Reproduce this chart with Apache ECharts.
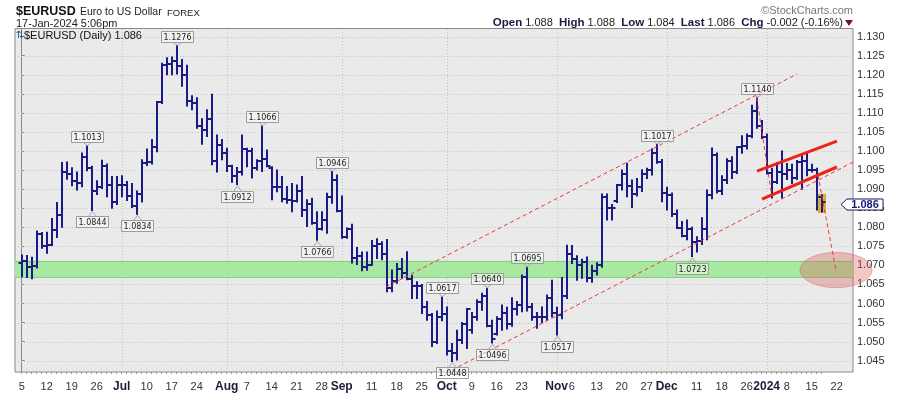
<!DOCTYPE html>
<html>
<head>
<meta charset="utf-8">
<script src="https://cdn.jsdelivr.net/npm/echarts@6.0.0/dist/echarts.min.js"></script>
<style>
html,body{margin:0;padding:0;background:#ffffff;}
#chart{width:900px;height:396px;}
</style>
</head>
<body>
<div id="chart"></div>
<script>
// ---------- DATA ----------
const dates = [
'2023-06-05','2023-06-06','2023-06-07','2023-06-08','2023-06-09',
'2023-06-12','2023-06-13','2023-06-14','2023-06-15','2023-06-16',
'2023-06-19','2023-06-20','2023-06-21','2023-06-22','2023-06-23',
'2023-06-26','2023-06-27','2023-06-28','2023-06-29','2023-06-30',
'2023-07-03','2023-07-04','2023-07-05','2023-07-06','2023-07-07',
'2023-07-10','2023-07-11','2023-07-12','2023-07-13','2023-07-14',
'2023-07-17','2023-07-18','2023-07-19','2023-07-20','2023-07-21',
'2023-07-24','2023-07-25','2023-07-26','2023-07-27','2023-07-28',
'2023-07-31','2023-08-01','2023-08-02','2023-08-03','2023-08-04',
'2023-08-07','2023-08-08','2023-08-09','2023-08-10','2023-08-11',
'2023-08-14','2023-08-15','2023-08-16','2023-08-17','2023-08-18',
'2023-08-21','2023-08-22','2023-08-23','2023-08-24','2023-08-25',
'2023-08-28','2023-08-29','2023-08-30','2023-08-31','2023-09-01',
'2023-09-04','2023-09-05','2023-09-06','2023-09-07','2023-09-08',
'2023-09-11','2023-09-12','2023-09-13','2023-09-14','2023-09-15',
'2023-09-18','2023-09-19','2023-09-20','2023-09-21','2023-09-22',
'2023-09-25','2023-09-26','2023-09-27','2023-09-28','2023-09-29',
'2023-10-02','2023-10-03','2023-10-04','2023-10-05','2023-10-06',
'2023-10-09','2023-10-10','2023-10-11','2023-10-12','2023-10-13',
'2023-10-16','2023-10-17','2023-10-18','2023-10-19','2023-10-20',
'2023-10-23','2023-10-24','2023-10-25','2023-10-26','2023-10-27',
'2023-10-30','2023-10-31','2023-11-01','2023-11-02','2023-11-03',
'2023-11-06','2023-11-07','2023-11-08','2023-11-09','2023-11-10',
'2023-11-13','2023-11-14','2023-11-15','2023-11-16','2023-11-17',
'2023-11-20','2023-11-21','2023-11-22','2023-11-23','2023-11-24',
'2023-11-27','2023-11-28','2023-11-29','2023-11-30','2023-12-01',
'2023-12-04','2023-12-05','2023-12-06','2023-12-07','2023-12-08',
'2023-12-11','2023-12-12','2023-12-13','2023-12-14','2023-12-15',
'2023-12-18','2023-12-19','2023-12-20','2023-12-21','2023-12-22',
'2023-12-26','2023-12-27','2023-12-28','2023-12-29',
'2024-01-02','2024-01-03','2024-01-04','2024-01-05',
'2024-01-08','2024-01-09','2024-01-10','2024-01-11','2024-01-12',
'2024-01-15','2024-01-16','2024-01-17'
];
const openP = [
1.0705,1.0712,1.0696,1.0698,1.0782, 1.0750,1.0753,1.0794,1.0832,1.0945,
1.0940,1.0922,1.0917,1.0985,1.0955, 1.0895,1.0905,1.0962,1.0912,1.0866,
1.0910,1.0912,1.0882,1.0855,1.0888, 1.0968,1.0970,1.1010,1.1128,1.1226,
1.1228,1.1236,1.1222,1.1200,1.1130, 1.1125,1.1065,1.1055,1.1085,1.0975,
1.1015,1.0995,1.0960,1.0935,1.0945, 1.1005,1.1000,1.0955,1.0975,1.0980,
1.0955,1.0905,1.0905,1.0875,1.0872, 1.0870,1.0895,1.0845,1.0860,1.0810,
1.0795,1.0818,1.0880,1.0925,1.0843, 1.0775,1.0795,1.0720,1.0725,1.0697,
1.0700,1.0750,1.0755,1.0730,1.0640, 1.0660,1.0690,1.0680,1.0665,1.0645,
1.0645,1.0590,1.0570,1.0500,1.0565, 1.0573,1.0475,1.0470,1.0505,1.0545,
1.0530,1.0565,1.0605,1.0620,1.0540, 1.0520,1.0558,1.0575,1.0545,1.0585,
1.0595,1.0670,1.0590,1.0565,1.0565, 1.0565,1.0615,1.0575,1.0570,1.0620,
1.0730,1.0718,1.0700,1.0710,1.0668, 1.0685,1.0700,1.0880,1.0850,1.0868,
1.0910,1.0940,1.0908,1.0888,1.0905, 1.0940,1.0950,1.0995,1.0970,1.0890,
1.0885,1.0835,1.0797,1.0778,1.0795, 1.0760,1.0763,1.0795,1.0885,1.0990,
1.0895,1.0925,1.0975,1.0945,1.1010, 1.1013,1.1040,1.1105,1.1065,
1.1038,1.0943,1.0920,1.0945, 1.0940,1.0950,1.0930,1.0972,1.0975,
1.0950,1.0950,1.0880
];
const highP = [
1.0727,1.0726,1.0721,1.0790,1.0786, 1.0787,1.0823,1.0865,1.0970,1.0971,
1.0956,1.0945,1.0995,1.1013,1.0960, 1.0922,1.0976,1.0966,1.0933,1.0933,
1.0935,1.0920,1.0915,1.0895,1.0977, 1.1005,1.1030,1.1130,1.1230,1.1245,
1.1247,1.1276,1.1240,1.1225,1.1145, 1.1140,1.1085,1.1108,1.1149,1.1042,
1.1030,1.1007,1.0963,1.0957,1.1042, 1.1007,1.1007,1.0977,1.1066,1.1003,
1.0959,1.0950,1.0933,1.0907,1.0915, 1.0911,1.0933,1.0872,1.0876,1.0841,
1.0841,1.0889,1.0946,1.0937,1.0882, 1.0798,1.0808,1.0747,1.0735,1.0735,
1.0765,1.0770,1.0762,1.0768,1.0688, 1.0705,1.0718,1.0736,1.0674,1.0657,
1.0650,1.0605,1.0574,1.0580,1.0617, 1.0591,1.0495,1.0530,1.0550,1.0587,
1.0576,1.0610,1.0627,1.0640,1.0556, 1.0565,1.0596,1.0590,1.0615,1.0605,
1.0675,1.0695,1.0600,1.0576,1.0591, 1.0622,1.0661,1.0590,1.0668,1.0753,
1.0752,1.0725,1.0716,1.0722,1.0700, 1.0707,1.0887,1.0887,1.0860,1.0912,
1.0950,1.0968,1.0924,1.0928,1.0951, 1.0955,1.1005,1.1017,1.0978,1.0905,
1.0890,1.0845,1.0815,1.0819,1.0800, 1.0775,1.0825,1.0898,1.1008,1.0995,
1.0935,1.0980,1.0985,1.1011,1.1040, 1.1045,1.1120,1.1140,1.1080,
1.1045,1.0955,1.0970,1.1000, 1.0967,1.0965,1.0975,1.0990,1.0995,
1.0965,1.0955,1.0885
];
const lowP = [
1.0670,1.0668,1.0665,1.0693,1.0745, 1.0732,1.0752,1.0773,1.0800,1.0926,
1.0909,1.0898,1.0906,1.0948,1.0844, 1.0886,1.0902,1.0880,1.0850,1.0860,
1.0880,1.0870,1.0852,1.0834,1.0866, 1.0962,1.0966,1.0998,1.1125,1.1200,
1.1200,1.1202,1.1170,1.1118,1.1108, 1.1060,1.1018,1.1038,1.0964,1.0945,
1.0977,1.0946,1.0918,1.0912,1.0937, 1.0959,1.0929,1.0950,1.0946,1.0959,
1.0872,1.0893,1.0867,1.0863,1.0841, 1.0866,1.0828,1.0802,1.0808,1.0766,
1.0793,1.0784,1.0863,1.0841,1.0771, 1.0771,1.0706,1.0702,1.0686,1.0687,
1.0700,1.0718,1.0715,1.0631,1.0631, 1.0653,1.0666,1.0662,1.0613,1.0613,
1.0574,1.0556,1.0487,1.0495,1.0555, 1.0465,1.0448,1.0452,1.0495,1.0482,
1.0522,1.0556,1.0582,1.0539,1.0496, 1.0517,1.0530,1.0533,1.0540,1.0570,
1.0578,1.0580,1.0556,1.0535,1.0550, 1.0556,1.0565,1.0517,1.0560,1.0613,
1.0705,1.0661,1.0666,1.0657,1.0656, 1.0675,1.0695,1.0819,1.0819,1.0865,
1.0898,1.0880,1.0852,1.0882,1.0894, 1.0928,1.0937,1.0968,1.0867,1.0845,
1.0828,1.0797,1.0775,1.0767,1.0723, 1.0735,1.0755,1.0767,1.0875,1.0890,
1.0886,1.0915,1.0928,1.0941,1.0994, 1.1005,1.1035,1.1060,1.1033,
1.0940,1.0877,1.0915,1.0877, 1.0925,1.0915,1.0925,1.0900,1.0935,
1.0945,1.0845,1.0840
];
const closeP = [
1.0712,1.0696,1.0698,1.0782,1.0750, 1.0753,1.0794,1.0832,1.0945,1.0940,
1.0922,1.0917,1.0985,1.0955,1.0895, 1.0905,1.0962,1.0912,1.0866,1.0910,
1.0912,1.0882,1.0855,1.0888,1.0968, 1.0970,1.1010,1.1128,1.1226,1.1228,
1.1236,1.1222,1.1200,1.1130,1.1125, 1.1065,1.1055,1.1085,1.0975,1.1015,
1.0995,1.0960,1.0935,1.0945,1.1005, 1.1000,1.0955,1.0975,1.0980,1.0962,
1.0905,1.0905,1.0875,1.0872,1.0870, 1.0895,1.0845,1.0860,1.0810,1.0795,
1.0818,1.0880,1.0925,1.0843,1.0775, 1.0795,1.0720,1.0725,1.0697,1.0700,
1.0750,1.0755,1.0730,1.0640,1.0660, 1.0690,1.0680,1.0665,1.0645,1.0645,
1.0590,1.0570,1.0500,1.0565,1.0573, 1.0475,1.0470,1.0505,1.0545,1.0585,
1.0565,1.0605,1.0620,1.0540,1.0508, 1.0558,1.0575,1.0545,1.0585,1.0595,
1.0670,1.0590,1.0565,1.0565,1.0565, 1.0615,1.0575,1.0570,1.0620,1.0730,
1.0718,1.0700,1.0710,1.0668,1.0685, 1.0700,1.0880,1.0850,1.0850,1.0910,
1.0940,1.0908,1.0888,1.0905,1.0940, 1.0950,1.0995,1.0970,1.0890,1.0885,
1.0835,1.0797,1.0778,1.0795,1.0760, 1.0763,1.0795,1.0885,1.0990,1.0895,
1.0925,1.0975,1.0945,1.1010,1.1013, 1.1040,1.1105,1.1065,1.1038,
1.0943,1.0920,1.0945,1.0940, 1.0950,1.0930,1.0972,1.0975,1.0950,
1.0950,1.0880,1.0865
];

// x-axis tick labels (index into trading days; 161..166 are future days)
const xTickIdx  = [0,5,10,15,20,25,30,35,41,45,50,55,60,64,70,75,80,85,90,95,100,107,110,115,120,125,129,135,140,145,149,153,158,163];
const xTickText = ['5','12','19','26','Jul','10','17','24','Aug','7','14','21','28','Sep','11','18','25','Oct','9','16','23','Nov','6','13','20','27','Dec','11','18','26','2024','8','15','22'];
const monthNames = ['Jul','Aug','Sep','Oct','Nov','Dec','2024'];
const monthLineIdx = [20,41,64,85,107,129,149];
const yTicks = [1.045,1.050,1.055,1.060,1.065,1.070,1.075,1.080,1.085,1.090,1.095,1.100,1.105,1.110,1.115,1.120,1.125,1.130];

// price callouts
const calloutIdx  = [13,14,23,31,43,48,59,62,84,86,93,94,101,107,127,134,147];
const calloutVal  = [1.1013,1.0844,1.0834,1.1276,1.0912,1.1066,1.0766,1.0946,1.0617,1.0448,1.0640,1.0496,1.0695,1.0517,1.1017,1.0723,1.1140];
const calloutSide = ['top','bottom','bottom','top','bottom','top','bottom','top','top','bottom','top','bottom','top','bottom','top','bottom','top'];

// annotations (index, price)
const supportBand  = [1.0669, 1.0712];
const channelUpper = [[72.86,1.06432],[155.06,1.12021]];
const channelLower = [[86.06,1.04254],[166.3,1.09712]];
const flagUpper    = [[147.06,1.09474],[163.06,1.10261]];
const flagLower    = [[148.06,1.08741],[163.06,1.09581]];
const flagPole     = [[147.0,1.1140],[150.06,1.0879]];
const projection   = [[159.26,1.09367],[162.9,1.0683]];
const targetCenter = [162.86,1.06877];
const targetRadius = [7.2,0.00459];
const lastPrice = 1.086;

// ---------- CHART ----------
const X_MIN = -1.34, X_MAX = 166.26, Y_MIN = 1.04202, Y_MAX = 1.13215;
const BAR = '#1b1b85';
const FONT = '"Liberation Sans", Arial, sans-serif';
const chart = echarts.init(document.getElementById('chart'), null, {renderer:'canvas'});

function lineSeries(data, color, width, dash, z){
  return {type:'line', data:data, symbol:'none', silent:true, z:z, clip:true, animation:false,
    lineStyle:{color:color, width:width, type:dash}};
}

const option = {
  animation:false,
  backgroundColor:'#ffffff',
  textStyle:{fontFamily:FONT},
  grid:{left:15,right:47,top:28.5,bottom:24,show:true,backgroundColor:'#eaeaea',borderColor:'#8a8a8a',borderWidth:1,outerBoundsMode:'none'},
  xAxis:{type:'value',min:X_MIN,max:X_MAX,
    axisLine:{show:false}, splitLine:{show:false},
    axisTick:{show:true,customValues:dates.map((d,i)=>i),length:2,lineStyle:{color:'#9a9a9a'}},
    axisLabel:{customValues:xTickIdx,margin:9,fontSize:11,color:'#333',fontFamily:FONT,
      formatter:function(v){const k=xTickIdx.indexOf(Math.round(v)); if(k<0) return ''; const t=xTickText[k]; return monthNames.indexOf(t)>=0?'{m|'+t+'}':t;},
      rich:{m:{fontWeight:'bold',fontSize:12,color:'#1c1c3c',fontFamily:FONT}}}
  },
  yAxis:{type:'value',position:'right',min:Y_MIN,max:Y_MAX,
    axisLine:{show:true,lineStyle:{color:'#8a8a8a'}},
    axisTick:{show:true,customValues:yTicks,length:3,lineStyle:{color:'#8a8a8a'}},
    splitLine:{show:false},
    axisLabel:{customValues:yTicks,formatter:v=>v.toFixed(3),fontSize:11,color:'#333',margin:4,fontFamily:FONT}
  },
  graphic:[
    {type:'text',x:16,y:12,style:{text:'$EURUSD',font:'bold 12.5px '+FONT,fill:'#111',verticalAlign:'middle'}},
    {type:'text',x:80,y:12.5,style:{text:'Euro to US Dollar',font:'10.5px '+FONT,fill:'#222',verticalAlign:'middle'}},
    {type:'text',x:167,y:13.5,style:{text:'FOREX',font:'9.5px '+FONT,fill:'#222',verticalAlign:'middle'}},
    {type:'text',x:16,y:23.5,style:{text:'17-Jan-2024 5:06pm',font:'11px '+FONT,fill:'#222',verticalAlign:'middle'}},
    {type:'text',x:853,y:10.5,style:{text:'\u00A9StockCharts.com',font:'11px '+FONT,fill:'#777',align:'right',verticalAlign:'middle'}},
    {type:'text',x:843,y:23,style:{text:'{b|Open} 1.088  {b|High} 1.088  {b|Low} 1.084  {b|Last} 1.086  {b|Chg} -0.002 (-0.16%)',
      font:'11px '+FONT,fill:'#222',align:'right',verticalAlign:'middle',
      rich:{b:{font:'bold 11.5px '+FONT,fill:'#1a1a40'}}}},
    {type:'polygon',shape:{points:[[845,20],[853,20],[849,26]]},style:{fill:'#7a0f2e'}},
    {type:'text',x:16,y:35.5,z:100,style:{text:'\u21C5',font:'10px "DejaVu Sans"',fill:'#2a4aa8',verticalAlign:'middle'}},
    {type:'text',x:24,y:35.5,z:100,style:{text:'$EURUSD (Daily) 1.086',font:'11px '+FONT,fill:'#111',verticalAlign:'middle'}}
  ],
  series:[
    // horizontal dotted grid
    {type:'custom',z:1,silent:true,data:yTicks.map(v=>[X_MIN,v]),encode:{x:0,y:1},
      renderItem:function(p,api){const a=api.coord([X_MIN,api.value(1)]),b=api.coord([X_MAX,api.value(1)]);const y=Math.round(a[1])+0.5;
        return {type:'line',shape:{x1:a[0],y1:y,x2:b[0],y2:y},style:{stroke:'#c4c4c4',lineWidth:1,lineDash:[1,2]}};}},
    // vertical month lines
    {type:'custom',z:1,silent:true,data:monthLineIdx.map(i=>[i,Y_MIN]),encode:{x:0,y:1},
      renderItem:function(p,api){const a=api.coord([api.value(0),Y_MIN]),b=api.coord([api.value(0),Y_MAX]);const x=Math.round(a[0])+0.5;
        return {type:'line',shape:{x1:x,y1:a[1],x2:x,y2:b[1]},style:{stroke:'#c4c4c4',lineWidth:1,lineDash:[1,2]}};}},
    // support band
    {type:'custom',z:2,silent:true,data:[[X_MIN,supportBand[0]]],encode:{x:0,y:1},
      renderItem:function(p,api){const a=api.coord([X_MIN,supportBand[1]]),b=api.coord([X_MAX,supportBand[0]]);
        return {type:'group',children:[
          {type:'rect',shape:{x:a[0],y:a[1],width:b[0]-a[0],height:b[1]-a[1]},style:{fill:'#a9e8a3'}},
          {type:'line',shape:{x1:a[0],y1:Math.round(a[1])+0.5,x2:b[0],y2:Math.round(a[1])+0.5},style:{stroke:'#82d27e',lineWidth:1}},
          {type:'line',shape:{x1:a[0],y1:Math.round(b[1])+0.5,x2:b[0],y2:Math.round(b[1])+0.5},style:{stroke:'#82d27e',lineWidth:1}}
        ]};}},
    // OHLC bars
    {type:'custom',z:3,silent:true,data:dates.map((d,i)=>[i,openP[i],highP[i],lowP[i],closeP[i]]),encode:{x:0,y:[1,2,3,4]},
      renderItem:function(p,api){
        const i=api.value(0);
        const o=api.coord([i,api.value(1)]),h=api.coord([i,api.value(2)]),l=api.coord([i,api.value(3)]),c=api.coord([i,api.value(4)]);
        const x=Math.round(h[0]);const st={stroke:BAR,lineWidth:2};const ch=[];
        if(p.dataIndex===dates.length-1){ch.push({type:'rect',shape:{x:x-4,y:h[1]-1,width:8,height:l[1]-h[1]+2},style:{fill:'rgba(214,168,30,0.9)'}});}
        ch.push({type:'line',shape:{x1:x,y1:h[1]-0.5,x2:x,y2:l[1]+0.5},style:st});
        ch.push({type:'line',shape:{x1:x-3.5,y1:Math.round(o[1]),x2:x,y2:Math.round(o[1])},style:st});
        ch.push({type:'line',shape:{x1:x,y1:Math.round(c[1]),x2:x+3.5,y2:Math.round(c[1])},style:st});
        return {type:'group',children:ch};}},
    // target ellipse
    {type:'custom',z:4,silent:true,data:[targetCenter],encode:{x:0,y:1},
      renderItem:function(p,api){const c=api.coord(targetCenter);const s=api.size(targetRadius);
        return {type:'ellipse',shape:{cx:c[0],cy:c[1],rx:s[0],ry:s[1]},style:{fill:'rgba(222,84,84,0.33)',stroke:'rgba(220,90,90,0.45)',lineWidth:1}};}},
    lineSeries(channelUpper,'#ea3b2e',1,[4,3],5),
    lineSeries(channelLower,'#ea3b2e',1,[4,3],5),
    lineSeries(flagPole,'#ea3b2e',1,[4,3],5),
    lineSeries(projection,'#ea3b2e',1,[4,3],5),
    lineSeries(flagUpper,'#ec2418',3,'solid',5),
    lineSeries(flagLower,'#ec2418',3,'solid',5),
    // callouts
    {type:'custom',z:6,silent:true,data:calloutIdx.map((x,k)=>[x,calloutVal[k]]),encode:{x:0,y:1},
      renderItem:function(p,api){
        const k=p.dataIndex;const pt=api.coord([calloutIdx[k],calloutVal[k]]);
        const up=calloutSide[k]==='top';const w=32,h=11;const x=Math.round(pt[0])+0.5;
        const boxY=up?Math.round(pt[1])-4-h+0.5:Math.round(pt[1])+6+0.5;
        const baseY=up?boxY+h:boxY;const tipY=up?pt[1]-0.5:pt[1]+1;
        return {type:'group',children:[
          {type:'polyline',shape:{points:[[x-4,baseY],[x,tipY],[x+4,baseY]]},style:{stroke:'#a8a8a8',fill:null,lineWidth:1}},
          {type:'rect',shape:{x:x-w/2,y:boxY,width:w,height:h},style:{fill:'rgba(255,255,255,0.45)',stroke:'#9c9c9c',lineWidth:1}},
          {type:'text',style:{text:calloutVal[k].toFixed(4),x:x,y:boxY+h/2+0.5,align:'center',verticalAlign:'middle',font:'8px "DejaVu Sans"',fill:'#1a1a1a'}}
        ]};}},
    // last price tag on axis
    {type:'custom',z:7,silent:true,data:[[X_MAX,lastPrice]],encode:{x:0,y:1},
      renderItem:function(p,api){const a=api.coord([X_MAX,lastPrice]);const y=Math.round(a[1])+0.5,x0=Math.round(a[0]);
        return {type:'group',children:[
          {type:'polygon',shape:{points:[[x0-12,y],[x0-6,y-5.5],[x0+30,y-5.5],[x0+30,y+5.5],[x0-6,y+5.5]]},style:{fill:'#ffffff',stroke:'#1b1b70',lineWidth:1}},
          {type:'text',style:{text:lastPrice.toFixed(3),x:x0+12,y:y+0.5,align:'center',verticalAlign:'middle',font:'bold 11px '+FONT,fill:'#1b1b70'}}
        ]};}}
  ]
};
chart.setOption(option);
</script>
</body>
</html>
